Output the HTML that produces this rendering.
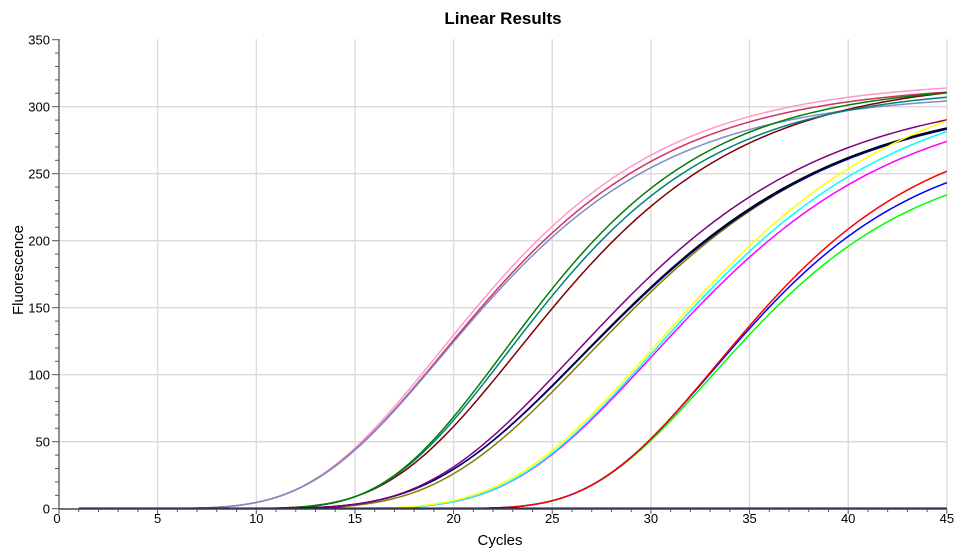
<!DOCTYPE html>
<html><head><meta charset="utf-8"><style>
body{margin:0;background:#fff;}
svg{display:block;font-family:"Liberation Sans",Arial,sans-serif;}
</style></head><body>
<svg id="s" width="960" height="558" xmlns="http://www.w3.org/2000/svg">
<text x="503" y="24" text-anchor="middle" font-size="17" font-weight="bold">Linear Results</text>
<text x="500" y="545" text-anchor="middle" font-size="15">Cycles</text>
<text transform="translate(23,270) rotate(-90)" text-anchor="middle" font-size="15">Fluorescence</text>
<g id="grid"></g><g id="curves"></g><g id="axes"></g>
</svg>
<script>
var NS="http://www.w3.org/2000/svg";
function X(c){return 59+19.73*c;}
function Y(v){return 508.7-1.34*v;}
function el(p,t,a,txt){var e=document.createElementNS(NS,t);for(var k in a)e.setAttribute(k,a[k]);if(txt!==undefined)e.textContent=txt;p.appendChild(e);return e;}
var g=document.getElementById('grid'),ax=document.getElementById('axes'),cv=document.getElementById('curves');
for(var c=5;c<=45;c+=5)el(g,'line',{x1:X(c),x2:X(c),y1:39,y2:509,stroke:'#d9d9d9','stroke-width':1.3});
for(var v=50;v<=300;v+=50)el(g,'line',{x1:59,x2:947,y1:Y(v),y2:Y(v),stroke:'#d9d9d9','stroke-width':1.3});
el(ax,'line',{x1:59,x2:59,y1:39,y2:509,stroke:'#555','stroke-width':1.3});
el(ax,'line',{x1:59,x2:947,y1:509,y2:509,stroke:'#444','stroke-width':1.5});
for(var v=0;v<=350;v+=10){var m=v%50==0;el(ax,'line',{x1:m?52:55,x2:59,y1:Y(v),y2:Y(v),stroke:'#555','stroke-width':1});
 if(m)el(ax,'text',{x:50,y:Y(v)+5,'text-anchor':'end','font-size':13},v);}
for(var c=0;c<=45;c++){var m=c%5==0;el(ax,'line',{x1:X(c),x2:X(c),y1:509,y2:m?514:512,stroke:'#555','stroke-width':1});
 if(m)el(ax,'text',{x:X(c)-(c==0?2:0),y:523,'text-anchor':'middle','font-size':13},c);}
var D=[
['#ff99cc',[[10,6],[15,41],[20,124],[25,209],[30,265],[35,295],[40,306],[45,314]]],
['#cc3366',[[10,6],[15,40],[20,121],[25,205],[30,260],[35,290],[40,303],[45,311]]],
['#7b8fc4',[[10,6],[15,40],[20,118],[25,203],[30,255],[35,283],[40,298],[45,304]]],
['#800000',[[15,13],[20,48],[25,148],[30,220],[35,279],[40,298],[45,310]]],
['#008080',[[15,14],[20,51],[25,160],[30,228],[35,278],[40,298],[45,307]]],
['#008000',[[15,14],[20,52],[25,164],[30,233],[35,285],[40,302],[45,310]]],
['#808000',[[15,4],[20,20],[25,77],[30,158],[35,231],[40,266],[45,281]]],
['#000000',[[15,5],[20,23],[25,85],[30,162],[35,230],[40,266],[45,282]]],
['#000080',[[15,5],[20,23],[25,85],[30,161],[35,229],[40,265],[45,281]]],
['#800080',[[15,5],[20,24],[25,90],[30,171],[35,240],[40,273],[45,288]]],
['#ff00ff',[[20,9],[25,28],[30,101],[35,195],[40,248],[45,272]]],
['#00ffff',[[20,9],[25,29],[30,103],[35,199],[40,255],[45,279]]],
['#ffff00',[[20,10],[25,31],[30,106],[35,203],[40,261],[45,287]]],
['#00ff00',[[25,7],[30,45],[35,128],[40,201],[45,233]]],
['#0000ff',[[25,7],[30,46],[35,132],[40,209],[45,242]]],
['#ff0000',[[25,7],[30,46],[35,135],[40,213],[45,251]]]
];
function fit(p){var mx=0;p.forEach(function(q){if(q[1]>mx)mx=q[1];});var best=null;
 for(var A=mx*1.003;A<mx*1.6;A+=0.5){var sx=0,sy=0,sxx=0,sxy=0,n=p.length;
  p.forEach(function(q){var z=-Math.log(-Math.log(q[1]/A));sx+=q[0];sy+=z;sxx+=q[0]*q[0];sxy+=q[0]*z;});
  var b=(n*sxy-sx*sy)/(n*sxx-sx*sx),a=(sy-b*sx)/n,e=0;
  p.forEach(function(q){var f=A*Math.exp(-Math.exp(-(a+b*q[0])));e+=(f-q[1])*(f-q[1]);});
  if(!best||e<best.e)best={A:A,a:a,b:b,e:e};}
 return best;}
D.forEach(function(r){var f=fit(r[1]),s='';
 for(var c=1;c<=45.001;c+=0.25){var v=f.A*Math.exp(-Math.exp(-(f.a+f.b*c)));s+=(s?'L':'M')+X(c).toFixed(2)+','+Y(v).toFixed(2);}
 el(cv,'path',{d:s,fill:'none',stroke:r[0],'stroke-width':1.5});});
el(cv,'line',{x1:X(1),x2:X(45),y1:Y(0.3),y2:Y(0.3),stroke:'#000080','stroke-width':1.5});
</script>
</body></html>
